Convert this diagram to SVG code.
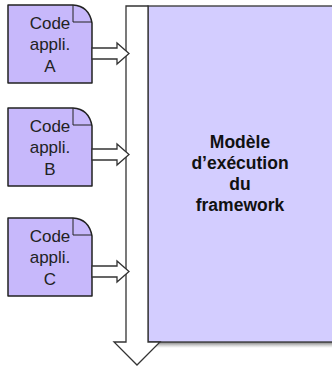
<svg xmlns="http://www.w3.org/2000/svg" width="332" height="366" viewBox="0 0 332 366">
<defs>
<linearGradient id="sh" x1="0" y1="0" x2="0" y2="1">
<stop offset="0" stop-color="#555" stop-opacity="0.8"/>
<stop offset="1" stop-color="#999" stop-opacity="0"/>
</linearGradient>
</defs>
<style>
.doc{fill:#c7b8fb;stroke:#222;stroke-width:1.5;stroke-linejoin:round}
.fold{fill:none;stroke:#222;stroke-width:1}
.arr{fill:#fff;stroke:#333;stroke-width:1.3;stroke-linejoin:miter}
.t{font-family:"Liberation Sans",Arial,sans-serif;font-size:17px;fill:#222;text-anchor:middle}
.b{font-family:"Liberation Sans",Arial,sans-serif;font-size:17.5px;font-weight:bold;fill:#111;text-anchor:middle}
</style>
<g id="framework">
<rect x="148" y="342" width="190" height="6" fill="url(#sh)"/>
<rect x="148" y="6" width="190" height="336" fill="#d3cdff" stroke="#333" stroke-width="1.3"/>
<text class="b" x="240" y="148">Modèle</text>
<text class="b" x="240" y="169">d’exécution</text>
<text class="b" x="240" y="190">du</text>
<text class="b" x="240" y="211">framework</text>
</g>
<g id="flow">
<path class="arr" d="M126,6 H148 V342 H160 L137,365 L114,342 H126 Z"/>
</g>
<g id="docA">
<path class="doc" d="M8,5 H73 Q89,6 92,23 V83 H8 Z"/>
<path class="fold" d="M73,5 V22 H92"/>
<text class="t" x="50" y="29">Code</text>
<text class="t" x="50" y="50">appli.</text>
<text class="t" x="50" y="72">A</text>
</g>
<g id="docB">
<path class="doc" d="M8,108 H73 Q89,109 92,126 V186 H8 Z"/>
<path class="fold" d="M73,108 V125 H92"/>
<text class="t" x="50" y="132">Code</text>
<text class="t" x="50" y="153">appli.</text>
<text class="t" x="50" y="175">B</text>
</g>
<g id="docC">
<path class="doc" d="M8,218 H73 Q89,219 92,236 V296 H8 Z"/>
<path class="fold" d="M73,218 V235 H92"/>
<text class="t" x="50" y="242">Code</text>
<text class="t" x="50" y="263">appli.</text>
<text class="t" x="50" y="285">C</text>
</g>
<g id="connectors">
<path class="arr" d="M92,48 H117 V43 L129,53.5 L117,64 V59 H92 Z"/>
<path class="arr" d="M92,149 H117 V144 L129,154.5 L117,165 V160 H92 Z"/>
<path class="arr" d="M92,266 H117 V261 L129,271.5 L117,282 V277 H92 Z"/>
</g>
</svg>
